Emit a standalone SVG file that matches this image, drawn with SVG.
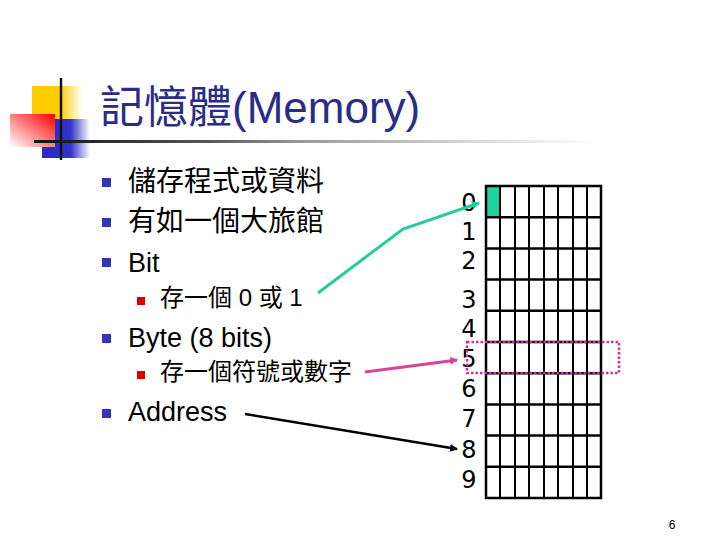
<svg xmlns="http://www.w3.org/2000/svg" width="720" height="540" viewBox="0 0 720 540">
<style>
.t{font-family:"Liberation Sans","Noto Sans CJK TC",sans-serif;fill:#000}
.title{font-size:44px;fill:#2b2b88}
.m{font-size:27px}
.mc{font-size:28px}
.s{font-size:24px}
.d{font-family:"DejaVu Sans",sans-serif;font-size:24px;fill:#000;text-anchor:middle}
.b1{fill:#3333bb}
.b2{fill:#dd0000}
.g{stroke:#000;stroke-width:2.5;fill:none}
.gi{stroke:#000;stroke-width:2}
</style>
<defs>
<linearGradient id="yel" x1="0" y1="0" x2="1" y2="0">
<stop offset="0" stop-color="#ffcc00"/><stop offset="0.55" stop-color="#ffcc00"/><stop offset="1" stop-color="#ffffff"/>
</linearGradient>
<linearGradient id="blu" x1="0" y1="0" x2="1" y2="0">
<stop offset="0" stop-color="#2a2ac0"/><stop offset="0.6" stop-color="#3333cc"/><stop offset="1" stop-color="#ffffff"/>
</linearGradient>
<linearGradient id="red" x1="0" y1="1" x2="1" y2="0">
<stop offset="0" stop-color="#ffffff"/><stop offset="1" stop-color="#ff0000"/>
</linearGradient>
<linearGradient id="ul" gradientUnits="userSpaceOnUse" x1="34" y1="0" x2="600" y2="0">
<stop offset="0" stop-color="#111111"/><stop offset="0.3" stop-color="#555555"/><stop offset="0.47" stop-color="#999999"/><stop offset="0.8" stop-color="#dddddd"/><stop offset="1" stop-color="#ffffff"/>
</linearGradient>
<marker id="ah-teal" markerWidth="8" markerHeight="8" refX="7" refY="4" orient="auto" markerUnits="userSpaceOnUse"><path d="M0,0 L8,4 L0,8 Z" fill="#26cca0"/></marker>
<marker id="ah-pink" markerWidth="8" markerHeight="8" refX="7" refY="4" orient="auto" markerUnits="userSpaceOnUse"><path d="M0,0 L8,4 L0,8 Z" fill="#d8449c"/></marker>
<marker id="ah-black" markerWidth="8" markerHeight="8" refX="7" refY="4" orient="auto" markerUnits="userSpaceOnUse"><path d="M0,0 L8,4 L0,8 Z" fill="#000"/></marker>
</defs>
<rect width="720" height="540" fill="#fff"/>
<g id="decoration">
<rect x="32" y="86" width="50" height="33" fill="url(#yel)"/>
<rect x="42" y="119" width="48" height="39" fill="url(#blu)"/>
<rect x="10" y="114" width="45" height="33" fill="url(#red)"/>
<line x1="61" y1="78" x2="61" y2="160" stroke="#111" stroke-width="2.5"/>
<rect x="34" y="140" width="566" height="3" fill="url(#ul)"/>
</g>
<g id="title"><text class="t title" x="100" y="123">記憶體(Memory)</text></g>
<g id="bullets">
<rect class="b1" x="102" y="178" width="9" height="9"/>
<text class="t mc" x="128" y="191">儲存程式或資料</text>
<rect class="b1" x="102" y="218" width="9" height="9"/>
<text class="t mc" x="128" y="231">有如一個大旅館</text>
<rect class="b1" x="102" y="258" width="9" height="9"/>
<text class="t m" x="128" y="272">Bit</text>
<rect class="b2" x="137" y="297" width="8" height="8"/>
<text class="t s" x="160" y="306">存一個 0 或 1</text>
<rect class="b1" x="102" y="334" width="9" height="9"/>
<text class="t m" x="128" y="347">Byte (8 bits)</text>
<rect class="b2" x="137" y="371" width="8" height="8"/>
<text class="t s" x="160" y="380">存一個符號或數字</text>
<rect class="b1" x="102" y="409" width="9" height="9"/>
<text class="t m" x="128" y="421">Address</text>
</g>
<g id="memory">
<rect x="486" y="186" width="13" height="31" fill="#20d4a0"/>
<g class="gi">
<line x1="500" y1="186" x2="500" y2="498"/><line x1="515" y1="186" x2="515" y2="498"/><line x1="529" y1="186" x2="529" y2="498"/><line x1="544" y1="186" x2="544" y2="498"/><line x1="558" y1="186" x2="558" y2="498"/><line x1="573" y1="186" x2="573" y2="498"/><line x1="587" y1="186" x2="587" y2="498"/>
</g>
<g class="g">
<line x1="486" y1="217.2" x2="601" y2="217.2"/><line x1="486" y1="248.4" x2="601" y2="248.4"/><line x1="486" y1="279.6" x2="601" y2="279.6"/><line x1="486" y1="310.8" x2="601" y2="310.8"/><line x1="486" y1="342" x2="601" y2="342"/><line x1="486" y1="373.2" x2="601" y2="373.2"/><line x1="486" y1="404.4" x2="601" y2="404.4"/><line x1="486" y1="435.6" x2="601" y2="435.6"/><line x1="486" y1="466.8" x2="601" y2="466.8"/>
<rect x="486" y="186" width="115" height="312"/>
</g>
<text class="d" x="469" y="211">0</text>
<text class="d" x="469" y="240">1</text>
<text class="d" x="469" y="269">2</text>
<text class="d" x="469" y="308">3</text>
<text class="d" x="469" y="337">4</text>
<text class="d" x="469" y="367">5</text>
<text class="d" x="469" y="397">6</text>
<text class="d" x="469" y="427">7</text>
<text class="d" x="469" y="458">8</text>
<text class="d" x="469" y="488">9</text>
<rect x="467" y="342" width="152" height="31" fill="none" stroke="#cc3399" stroke-width="2.5" stroke-dasharray="2.5,2"/>
</g>
<g id="connectors" fill="none">
<polyline points="318,293 403,229 479,203" stroke="#26cca0" stroke-width="3" marker-end="url(#ah-teal)"/>
<line x1="365" y1="372" x2="457" y2="360" stroke="#d8449c" stroke-width="3" marker-end="url(#ah-pink)"/>
<line x1="245" y1="414" x2="457" y2="449" stroke="#000" stroke-width="2.5" marker-end="url(#ah-black)"/>
</g>
<text x="672" y="529" font-family="Liberation Sans,sans-serif" font-size="12" text-anchor="middle">6</text>
</svg>
